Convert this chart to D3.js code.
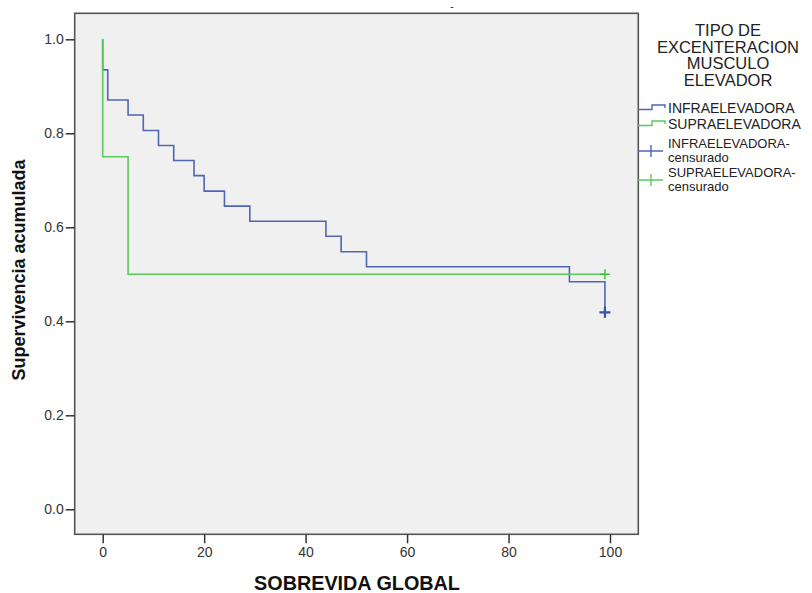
<!DOCTYPE html>
<html><head><meta charset="utf-8">
<script src="https://cdn.jsdelivr.net/npm/d3@7"></script>
<style>body{margin:0;background:#fff}svg{display:block}text{font-family:"Liberation Sans",Arial,sans-serif}</style>
</head><body><svg id="c" width="812" height="593"></svg>
<script>
// Data
const infraTimes = [0, 1, 5, 8, 11, 14, 18, 20, 24, 29, 44, 47, 52, 92, 99];
const infraSurv  = [0.935, 0.871, 0.839, 0.806, 0.774, 0.742, 0.710, 0.677, 0.645, 0.613, 0.581, 0.548, 0.516, 0.484, 0.419];
const supraTimes = [0, 5];
const supraSurv  = [0.75, 0.50];
const supraEnd   = 99;
const infraCensorT = [99], infraCensorS = [0.419];
const supraCensorT = [99], supraCensorS = [0.50];
const xTicks = [0, 20, 40, 60, 80, 100];
const yTicks = [0.0, 0.2, 0.4, 0.6, 0.8, 1.0];
const legendTitle = ["TIPO DE", "EXCENTERACION", "MUSCULO", "ELEVADOR"];
const seriesNames = ["INFRAELEVADORA", "SUPRAELEVADORA"];
const censorNames = [["INFRAELEVADORA-", "censurado"], ["SUPRAELEVADORA-", "censurado"]];

const blue = "#4f66b7", green = "#5cc95c";
const svg = d3.select("#c");
const box = {l: 74.7, t: 13.3, r: 638.3, b: 534.3};
const x = d3.scaleLinear().domain([0, 100]).range([102.7, 610]);
const y = d3.scaleLinear().domain([0, 1]).range([509.3, 39.3]);

svg.append("rect").attr("x", box.l).attr("y", box.t).attr("width", box.r - box.l).attr("height", box.b - box.t)
  .attr("fill", "#f0f0f0").attr("stroke", "#555").attr("stroke-width", 1.6);

// stray dash at top
svg.append("text").attr("x", 452).attr("y", 10).attr("text-anchor", "middle").attr("font-size", 10).attr("fill", "#222").text("-");

// axes
const xAxis = d3.axisBottom(x).tickValues(xTicks).tickSize(9).tickPadding(4).tickFormat(d3.format("d"));
const gx = svg.append("g").attr("transform", `translate(0,${box.b})`).call(xAxis);
gx.select(".domain").remove();
gx.selectAll("line").attr("stroke", "#333").attr("stroke-width", 1.5);
gx.selectAll("text").attr("font-size", 14).attr("fill", "#333").attr("font-family", "Liberation Sans, Arial");

const yAxis = d3.axisLeft(y).tickValues(yTicks).tickSize(9).tickPadding(2).tickFormat(d3.format(".1f"));
const gy = svg.append("g").attr("transform", `translate(${box.l},0)`).call(yAxis);
gy.select(".domain").remove();
gy.selectAll("line").attr("stroke", "#333").attr("stroke-width", 1.5);
gy.selectAll("text").attr("font-size", 14).attr("fill", "#333").attr("font-family", "Liberation Sans, Arial");

// titles
svg.append("text").attr("x", 357).attr("y", 590).attr("text-anchor", "middle").attr("font-size", 19.8)
  .attr("font-weight", "bold").attr("fill", "#111").text("SOBREVIDA GLOBAL");
svg.append("text").attr("transform", "translate(25,270) rotate(-90)").attr("text-anchor", "middle")
  .attr("font-size", 18).attr("font-weight", "bold").attr("fill", "#111").text("Supervivencia acumulada");

// step curves
function stepPts(times, surv, endT) {
  const pts = [[0, 1]];
  times.forEach((t, i) => { pts.push([t, pts[pts.length - 1][1]]); pts.push([t, surv[i]]); });
  if (endT !== undefined) pts.push([endT, surv[surv.length - 1]]);
  return pts;
}
const line = d3.line().x(d => x(d[0])).y(d => y(d[1]));
svg.append("path").attr("d", line(stepPts(infraTimes, infraSurv))).attr("fill", "none")
  .attr("stroke", blue).attr("stroke-width", 1.6);
svg.append("path").attr("d", line(stepPts(supraTimes, supraSurv, supraEnd))).attr("fill", "none")
  .attr("stroke", green).attr("stroke-width", 1.6);

// censor marks
function cross(t, s, color, r, w) {
  const cx = x(t), cy = y(s);
  svg.append("path").attr("d", `M${cx - r},${cy}H${cx + r}M${cx},${cy - r}V${cy + r}`)
    .attr("stroke", color).attr("stroke-width", w).attr("fill", "none");
}
infraCensorT.forEach((t, i) => cross(t, infraCensorS[i], "#3a52a8", 5.5, 2.2));
supraCensorT.forEach((t, i) => cross(t, supraCensorS[i], "#3fbf3f", 5, 1.5));

// legend
const lg = svg.append("g");
legendTitle.forEach((s, i) => lg.append("text").attr("x", 728).attr("y", 36 + i * 16.7)
  .attr("text-anchor", "middle").attr("font-size", 16.5).attr("fill", "#222").text(s));
[blue, green].forEach((c, i) => {
  const yy = 108 + i * 16;
  lg.append("path").attr("d", `M638,${yy + 1.5}H652V${yy - 3}H665V${yy}`).attr("fill", "none")
    .attr("stroke", c).attr("stroke-width", 1.4);
  lg.append("text").attr("x", 668).attr("y", yy + 5).attr("font-size", 14).attr("fill", "#222").text(seriesNames[i]);
});
[blue, green].forEach((c, i) => {
  const yy = 151 + i * 29;
  lg.append("path").attr("d", `M638,${yy}H663M651,${yy - 6}V${yy + 6}`).attr("fill", "none")
    .attr("stroke", c).attr("stroke-width", 1.4);
  lg.append("text").attr("x", 668).attr("y", yy - 3.5).attr("font-size", 13).attr("fill", "#222").text(censorNames[i][0]);
  lg.append("text").attr("x", 668).attr("y", yy + 11).attr("font-size", 13).attr("fill", "#222").text(censorNames[i][1]);
});
</script></body></html>
